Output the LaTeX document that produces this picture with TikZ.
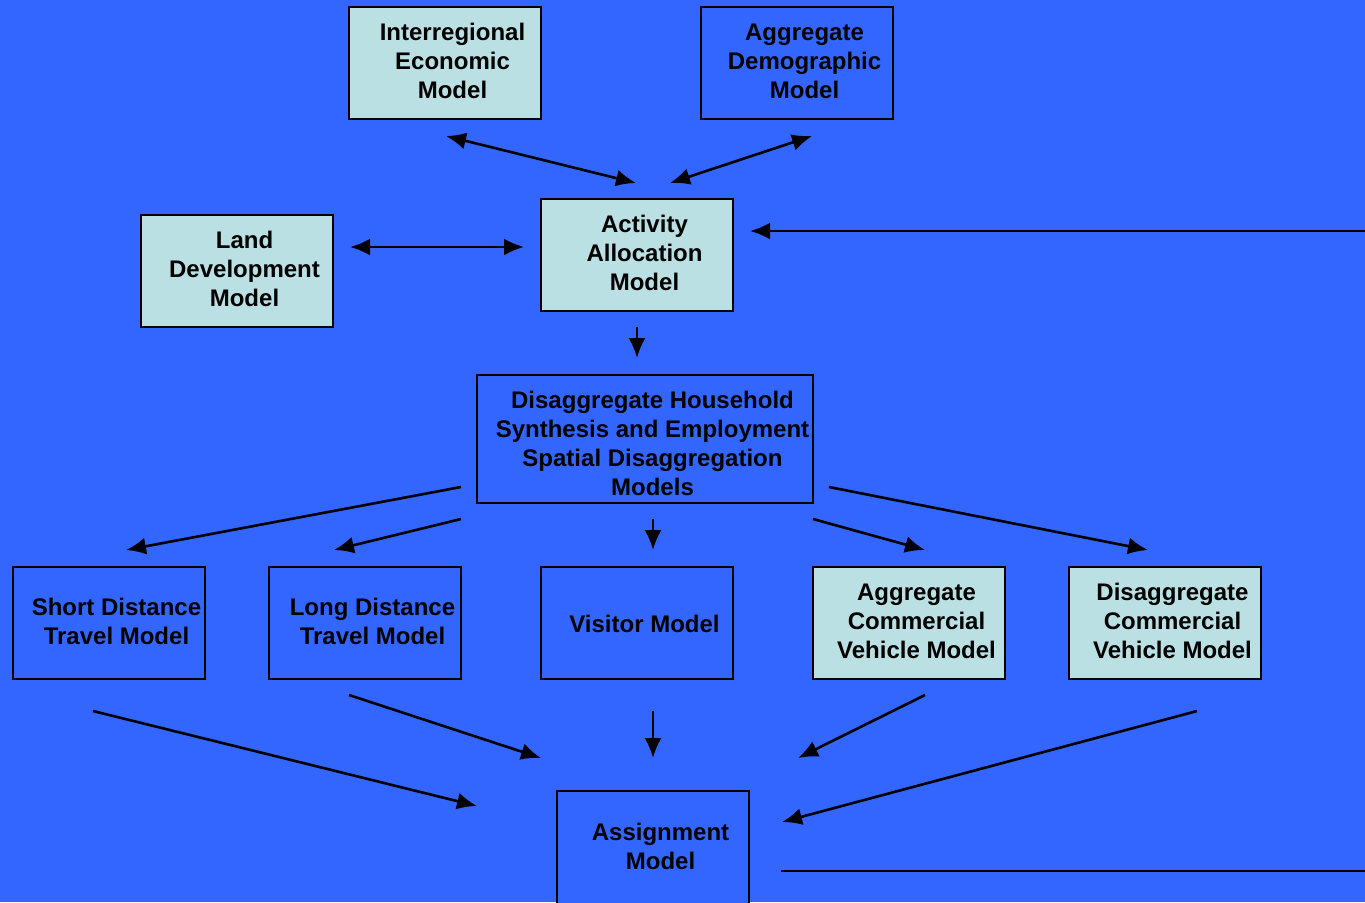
\documentclass[tikz,border=0pt]{standalone}
\usepackage{fontspec}
\setmainfont{Liberation Sans}
\usetikzlibrary{arrows.meta}
\definecolor{slideblue}{HTML}{3366FF}
\definecolor{paleteal}{HTML}{BBE0E3}

\begin{document}
\begin{tikzpicture}[
                x = 1pt, y = -1pt,
                modelbox/.style = {
                    rectangle,
                    draw            = black,
                    line width      = 1.5pt,
                    fill            = slideblue,
                    minimum width   = 192pt,
                    minimum height  = 112pt,
                    inner sep       = 0pt
                },
                litbox/.style = {modelbox, fill = paleteal},
                boxtext/.style = {
                    align           = center,
                    inner sep       = 0pt,
                    xshift          = 7.5pt,
                    yshift          = 2pt,
                    font            = \fontsize{24}{29}\selectfont\bfseries
                },
                bigarrow/.style = {-{Latex[length=20pt, width=17pt]}, line width = 2.6pt},
                twoarrow/.style = {{Latex[length=20pt, width=17pt]}-{Latex[length=20pt, width=17pt]}, line width = 2.6pt}
            ]

                \fill[slideblue] (0, 0) rectangle (1365, 902);
                \useasboundingbox (0, 0) rectangle (1365, 902);

                % boxes
                \node[litbox]   (iem)   at (445, 63)  {};
                \node[modelbox] (adm)   at (797, 63)  {};
                \node[litbox]   (aam)   at (637, 255) {};
                \node[litbox]   (ldm)   at (237, 271) {};
                \node[modelbox, minimum width = 336pt, minimum height = 128pt] (dhs) at (645, 439) {};
                \node[modelbox] (sdt)   at (109, 623) {};
                \node[modelbox] (ldt)   at (365, 623) {};
                \node[modelbox] (vis)   at (637, 623) {};
                \node[litbox]   (acv)   at (909, 623) {};
                \node[litbox]   (dcv)   at (1165, 623) {};
                \node[modelbox, minimum height = 120pt] (asg) at (653, 851) {};

                % texts
                \node[boxtext] at (iem) {Interregional\\Economic\\Model};
                \node[boxtext] at (adm) {Aggregate\\Demographic\\Model};
                \node[boxtext] at (aam) {Activity\\Allocation\\Model};
                \node[boxtext] at (ldm) {Land\\Development\\Model};
                \node[boxtext] at ([yshift=-6pt]dhs) {Disaggregate Household\\Synthesis and Employment\\Spatial Disaggregation\\Models};
                \node[boxtext] at (sdt) {Short Distance\\Travel Model};
                \node[boxtext] at (ldt) {Long Distance\\Travel Model};
                \node[boxtext] at ([yshift=-3pt]vis) {Visitor Model};
                \node[boxtext] at (acv) {Aggregate\\Commercial\\Vehicle Model};
                \node[boxtext] at (dcv) {Disaggregate\\Commercial\\Vehicle Model};
                \node[boxtext] at ([yshift=3pt]asg) {Assignment\\Model};

                % connector ends
                \coordinate (iem-out) at (446, 136);
                \coordinate (adm-out) at (812, 136);
                \coordinate (aam-inl) at (636, 183);
                \coordinate (aam-inr) at (670, 183);
                \coordinate (ldm-out) at (350, 247);
                \coordinate (aam-w)   at (524, 247);
                \coordinate (aam-e)   at (750, 231);
                \coordinate (feedin)  at (1365, 231);
                \coordinate (aam-s)   at (637, 327);
                \coordinate (dhs-in)  at (637, 358);
                \coordinate (dhs-w1)  at (461, 487);
                \coordinate (dhs-w2)  at (461, 519);
                \coordinate (dhs-s)   at (653, 519);
                \coordinate (dhs-e2)  at (813, 519);
                \coordinate (dhs-e1)  at (829, 487);
                \coordinate (sdt-in)  at (126, 550);
                \coordinate (ldt-in)  at (334, 550);
                \coordinate (vis-in)  at (653, 550);
                \coordinate (acv-in)  at (925, 550);
                \coordinate (dcv-in)  at (1148, 550);
                \coordinate (sdt-out) at (93, 711);
                \coordinate (ldt-out) at (349, 695);
                \coordinate (vis-out) at (653, 711);
                \coordinate (acv-out) at (925, 695);
                \coordinate (dcv-out) at (1197, 711);
                \coordinate (asg-in1) at (477, 806);
                \coordinate (asg-in2) at (541, 758);
                \coordinate (asg-in3) at (653, 758);
                \coordinate (asg-in4) at (798, 758);
                \coordinate (asg-in5) at (782, 822);
                \coordinate (asg-e)   at (781, 871);
                \coordinate (feedout) at (1365, 871);

                % connectors
                \draw[twoarrow] (iem-out) -- (aam-inl);
                \draw[twoarrow] (adm-out) -- (aam-inr);
                \draw[twoarrow] (ldm-out) -- (aam-w);
                \draw[bigarrow] (feedin) -- (aam-e);
                \draw[bigarrow] (aam-s) -- (dhs-in);
                \draw[bigarrow] (dhs-w1) -- (sdt-in);
                \draw[bigarrow] (dhs-w2) -- (ldt-in);
                \draw[bigarrow] (dhs-s) -- (vis-in);
                \draw[bigarrow] (dhs-e2) -- (acv-in);
                \draw[bigarrow] (dhs-e1) -- (dcv-in);
                \draw[bigarrow] (sdt-out) -- (asg-in1);
                \draw[bigarrow] (ldt-out) -- (asg-in2);
                \draw[bigarrow] (vis-out) -- (asg-in3);
                \draw[bigarrow] (acv-out) -- (asg-in4);
                \draw[bigarrow] (dcv-out) -- (asg-in5);
                \draw[line width = 2.6pt] (asg-e) -- (feedout);
            \end{tikzpicture}
\end{document}
